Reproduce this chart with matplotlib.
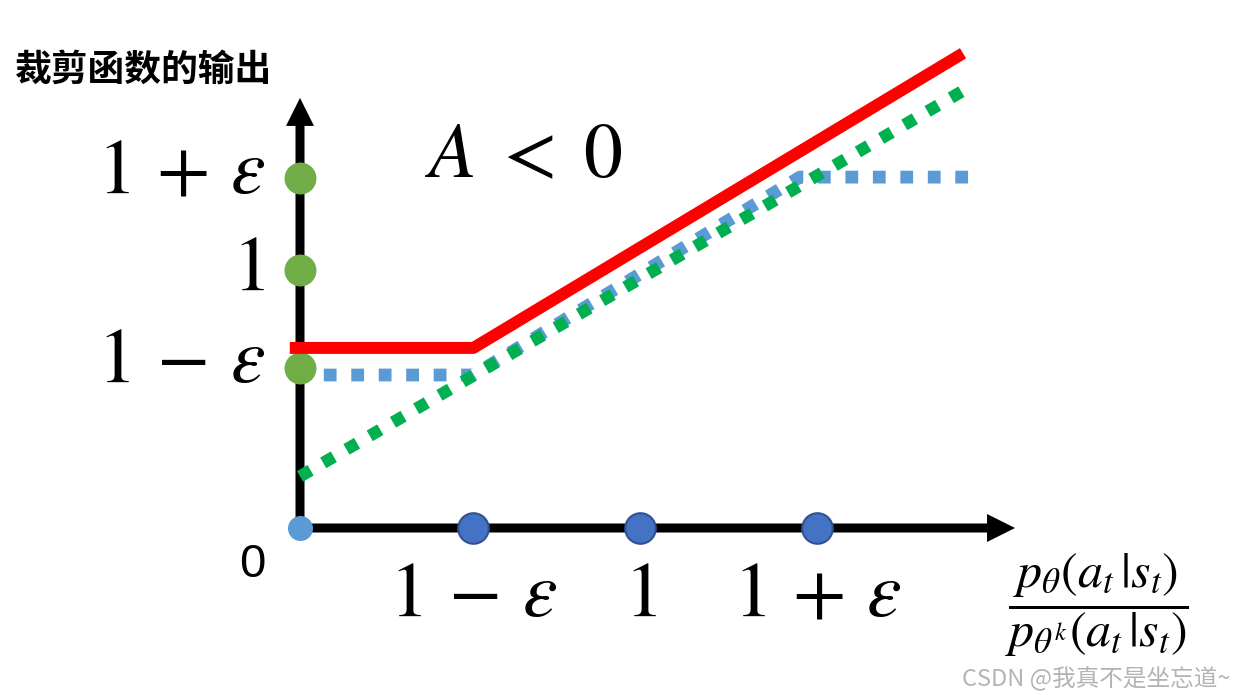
import matplotlib.pyplot as plt

plt.rcParams['font.family'] = ['Noto Sans CJK SC', 'DejaVu Sans']
plt.rcParams['mathtext.fontset'] = 'stix'

# ratio axis ticks (1-eps, 1, 1+eps) and output axis ticks
x_ticks = [0.51, 1.0, 1.52]
x_labels = [r'$1\,-\,\varepsilon$', r'$1$', r'$1\,+\,\varepsilon$']
y_ticks = [0.62, 1.0, 1.355]
y_labels = [r'$1\,-\,\varepsilon$', r'$1$', r'$1\,+\,\varepsilon$']

# clipped objective (red), clip(r) (blue dotted), r itself (green dotted)
red_x = [-0.03, 0.51, 1.95]
red_y = [0.698, 0.698, 1.84]
blue_x = [0.07, 0.51, 1.47, 1.97]
blue_y = [0.593, 0.593, 1.36, 1.36]
green_x = [0.0, 1.97]
green_y = [0.20, 1.71]

fig = plt.figure(figsize=(12.35, 6.95), dpi=100)
ax = fig.add_axes([0, 0, 1, 1])
ax.set_xlim(-300 / 340, 935 / 340)
ax.set_ylim(-167 / 258, 528 / 258)
ax.axis('off')

# axes with arrow heads
ax.arrow(0, -4.5 / 258, 0, 1.667 + 4.5 / 258, width=9 / 340, head_width=28 / 340,
         head_length=28 / 258, length_includes_head=True, color='black', lw=0, zorder=2)
ax.arrow(-4.5 / 340, 0, 2.103 + 4.5 / 340, 0, width=9 / 258, head_width=28 / 258,
         head_length=28 / 340, length_includes_head=True, color='black', lw=0, zorder=2)

ax.plot(blue_x, blue_y, color='#5B9BD5', lw=9.2, dashes=(1, 1.15),
        solid_capstyle='butt', dash_capstyle='butt', zorder=3)
ax.plot(green_x, green_y, color='#00B050', lw=8.8, dashes=(1, 1.2),
        solid_capstyle='butt', dash_capstyle='butt', zorder=4)

ax.plot([0] * len(y_ticks), y_ticks, 'o', ms=22, color='#70AD47', zorder=5)
ax.plot(x_ticks, [0] * len(x_ticks), 'o', ms=22, color='#4472C4',
        mec='#2F528F', mew=1.5, zorder=5)
ax.plot([0], [0], 'o', ms=17, color='#5B9BD5', zorder=5)

ax.plot(red_x, red_y, color='#FF0000', lw=8.6, solid_capstyle='butt', zorder=6)

# labels
for y, lab in zip(y_ticks, y_labels):
    off = 0.03 if lab != r'$1$' else 0.008
    ax.text(-0.103, y + off, lab, ha='right', va='center', fontsize=56)
for x, lab in zip(x_ticks, x_labels):
    ax.text(x, -0.256, lab, ha='center', va='center', fontsize=56)

ax.text(-0.141, -0.143, '0', ha='center', va='center', fontsize=34,
        family='Liberation Sans')
ax.text(0.368, 1.446, r'$A\;<\;0$', ha='left', va='center', fontsize=56)
ax.text(-0.838, 1.775, '裁剪函数的输出', ha='left', va='center', fontsize=26.5,
        fontweight='bold')
ax.text(2.344, -0.300, r'$\dfrac{p_\theta(a_t\,|s_t)}{p_{\theta^k}(a_t\,|s_t)}$',
        ha='center', va='center', fontsize=36)

fig.text(0.996, 0.024, 'CSDN @我真不是坐忘道~', ha='right', va='center',
         fontsize=17, color='#b4b4b4')

plt.savefig('out.png', dpi=100)
